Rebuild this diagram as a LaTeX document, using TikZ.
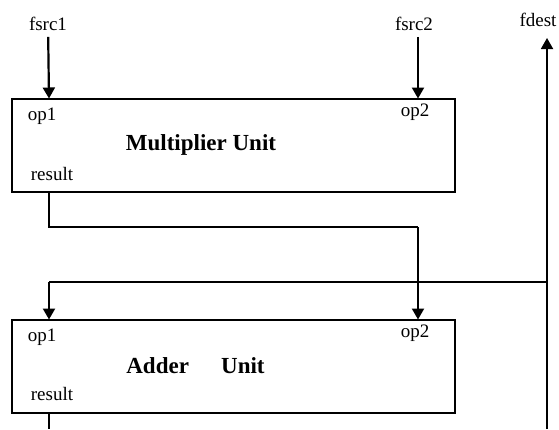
\documentclass[tikz,border=0pt]{standalone}
\usepackage{fontspec}
\setmainfont{Liberation Serif}
\usetikzlibrary{arrows.meta}

\begin{document}
\begin{tikzpicture}[x=1pt,y=-1pt,
  unitbox/.style={draw, line width=2pt, minimum width=443pt, minimum height=93pt, inner sep=0pt},
  lbl/.style={font=\fontsize{19}{21}\selectfont, inner sep=1pt},
  unitname/.style={font=\fontsize{23}{26}\selectfont\bfseries, inner sep=1pt},
  sig/.style={line width=1.2pt},
  port/.style={line width=2.2pt, -{Triangle[length=11pt,width=12pt]}}]
  \useasboundingbox (0,0) rectangle (559,429);
  % the two units
  \node[unitbox] (mul) at (233.5,145) {};
  \node[unitbox] (add) at (233.5,366) {};
  \node[unitname] (multitle) at (201,145) {Multiplier Unit};
  \node[unitname] (addtitle) at (195.5,366) {Adder\hspace{1.4em}Unit};
  % port labels
  \node[lbl] (mulop1) at (42,116) {op1};
  \node[lbl] (mulop2) at (415,112) {op2};
  \node[lbl] (mulres) at (52,174) {result};
  \node[lbl] (addop1) at (42,337) {op1};
  \node[lbl] (addop2) at (415,333) {op2};
  \node[lbl] (addres) at (52,394) {result};
  % external signals
  \node[lbl] (fsrc1) at (48,24) {fsrc1};
  \node[lbl] (fsrc2) at (414,24) {fsrc2};
  \node[lbl] (fdest) at (538,20) {fdest};
  % port points
  \coordinate (mop1) at (49,98.5);
  \coordinate (mop2) at (418,98.5);
  \coordinate (mres) at (49,191.5);
  \coordinate (aop1) at (49,319.5);
  \coordinate (aop2) at (418,319.5);
  \coordinate (ares) at (49,412.5);
  \coordinate (aout) at (49,429);
  \coordinate (bend1) at (418,227);
  \coordinate (fb) at (547,282);
  \coordinate (bend2) at (49,282);
  \coordinate (fdin) at (547,429);
  \coordinate (fdtip) at (547,38);
  % connections
  \draw[port, shorten <=5pt] (fsrc1) -- (mop1);
  \draw[port, shorten <=5pt] (fsrc2.south -| mop2) -- (mop2);
  \draw[sig] (mres) |- (bend1);
  \draw[port] (bend1) -- (aop2);
  \draw[sig] (fb) -- (bend2);
  \draw[port] (bend2) -- (aop1);
  \draw[sig] (ares) -- (aout);
  \draw[port, line width=1.8pt] (fdin) -- (fdtip);
\end{tikzpicture}
\end{document}
